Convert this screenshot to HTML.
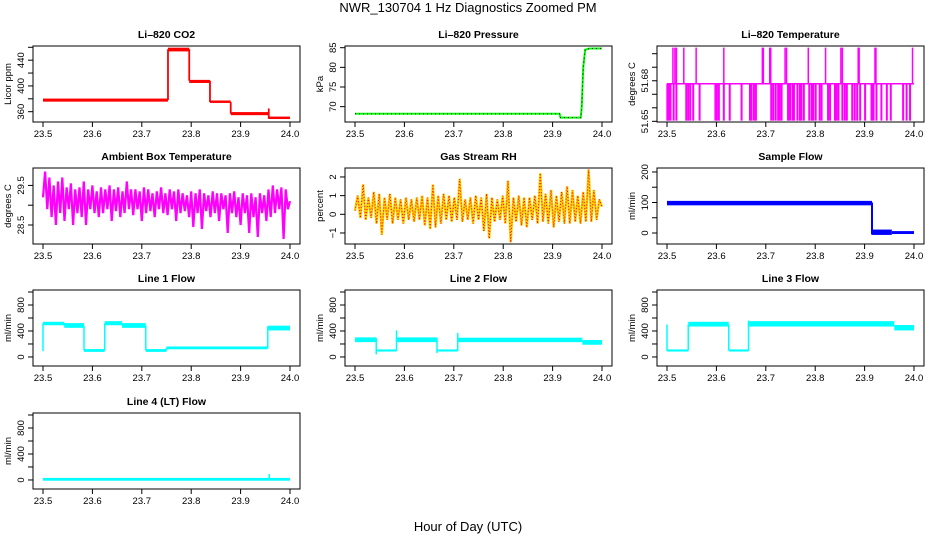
<!DOCTYPE html>
<html><head><meta charset="utf-8"><style>
body{margin:0;background:#fff}
svg{display:block;font-family:"Liberation Sans",sans-serif}
</style></head><body>
<svg id="c" width="936" height="540" viewBox="0 0 936 540">
<rect width="936" height="540" fill="#fff"/>
<text x="468" y="12" text-anchor="middle" font-size="13">NWR_130704  1 Hz Diagnostics Zoomed PM</text>
<text x="468" y="531" text-anchor="middle" font-size="13">Hour of Day (UTC)</text>
</svg>
<script>
// ---- data ----
const xTicks=[23.5,23.6,23.7,23.8,23.9,24.0];
const xTickLabels=["23.5","23.6","23.7","23.8","23.9","24.0"];
// CO2 (bands)
const co2T=[23.5,23.753,23.796,23.838,23.88,23.957,24.0];
const co2Lo=[377,455,406,375,356,350];
const co2Hi=[379,458,408,376,358,351];
const co2SpX=[23.753,23.796,23.838,23.88,23.957];
const co2SpLo=[378,408,375,357,349];
const co2SpHi=[457,457,408,375,365];
// Pressure
const presX=[23.5,23.914,23.916,23.957,23.959,23.962,23.966,23.975,24.0];
const presY=[68.2,68.2,67.2,67.2,70,80,84.5,84.8,84.8];
// Li-820 temperature
const tBase=51.6778;
const tLowVal=51.6505, tHighVal=51.7045;
const tLowX=[23.5007,23.503,23.507,23.5135,23.519,23.539,23.543,23.547,23.553,23.566,23.598,23.601,23.605,23.615,23.627,23.651,23.668,23.671,23.676,23.680,23.711,23.715,23.720,23.725,23.728,23.732,23.745,23.749,23.754,23.757,23.764,23.769,23.772,23.777,23.788,23.793,23.796,23.801,23.809,23.813,23.826,23.830,23.840,23.843,23.847,23.855,23.860,23.864,23.875,23.880,23.885,23.891,23.901,23.914,23.918,23.924,23.934,23.945,23.953,23.978,23.985,23.992];
const tHighX=[23.512,23.516,23.519,23.534,23.559,23.615,23.693,23.695,23.708,23.710,23.739,23.742,23.786,23.821,23.852,23.855,23.887,23.889,23.921,23.923,23.997];
// Ambient temperature
const amb=[29.2,29.85,28.9,29.7,28.7,29.5,28.5,29.6,28.8,29.7,28.6,29.45,28.9,29.55,28.5,29.4,28.8,29.45,28.7,29.6,28.5,29.4,28.9,29.5,28.8,29.35,28.7,29.45,28.8,29.4,28.9,29.5,28.6,29.4,28.85,29.45,28.7,29.35,28.8,29.6,28.9,29.4,28.75,29.4,28.9,29.35,28.6,29.45,28.8,29.4,28.85,29.3,28.7,29.35,28.9,29.45,28.8,29.3,28.75,29.4,28.9,29.35,28.6,29.4,28.8,29.3,28.85,29.25,28.7,29.35,28.45,29.3,28.8,29.4,28.4,29.3,28.85,29.25,28.7,29.35,28.8,29.3,28.6,29.3,28.9,29.25,28.3,29.3,28.8,29.35,28.7,29.2,28.5,29.3,28.8,29.25,28.3,29.3,28.7,29.2,28.2,29.3,28.8,29.25,28.6,29.4,28.7,29.5,28.8,29.4,28.9,29.45,28.15,29.4,28.9,29.1];
// Gas stream RH
const rh=[0.2,1.0,-0.2,1.6,-0.3,0.9,-0.2,1.2,-0.5,1.1,-1.1,0.9,-0.3,1.1,-0.5,0.9,-0.3,0.8,-0.5,0.9,-0.3,0.8,-0.4,0.9,-0.3,1.0,-0.6,0.9,-0.8,1.6,-0.7,1.0,-0.5,1.1,-0.3,1.0,-0.4,0.9,-0.3,1.9,-0.4,0.8,-0.3,0.9,-0.5,1.0,-0.3,0.9,-0.9,1.1,-1.3,0.9,-0.4,0.8,-0.3,1.0,-0.5,1.8,-1.5,0.9,-0.4,1.0,-0.6,0.9,-0.7,0.9,-0.3,1.0,-0.5,2.2,-0.4,1.1,-0.5,1.3,-0.7,1.0,-0.4,1.2,-0.5,1.5,-0.5,1.3,-0.4,1.0,-0.5,1.2,-0.4,2.4,-0.4,1.3,-0.3,0.8,0.4];
// Sample flow
const sfT=[23.5,23.915,23.955,24.0];
const sfLo=[94,-3,0];
const sfHi=[102,8,3];
const sfSpX=[23.915]; const sfSpLo=[-5]; const sfSpHi=[100];
// Line flows
const l1T=[23.5,23.543,23.583,23.625,23.66,23.708,23.75,23.955,24.0];
const l1Lo=[500,460,90,500,460,90,130,420];
const l1Hi=[530,510,110,540,510,110,150,470];
const l1SpX=[23.5,23.543,23.583,23.625,23.708,23.75,23.955]; const l1SpLo=[90,480,100,100,100,100,140]; const l1SpHi=[520,520,480,520,480,140,470];
const l2T=[23.5,23.543,23.584,23.666,23.708,23.96,24.0];
const l2Lo=[240,95,240,95,240,200];
const l2Hi=[290,105,290,105,285,250];
const l2SpX=[23.543,23.584,23.666,23.708]; const l2SpLo=[40,95,60,95]; const l2SpHi=[290,410,290,370];
const l3T=[23.5,23.543,23.625,23.665,23.96,24.0];
const l3Lo=[95,480,95,480,420];
const l3Hi=[105,530,105,540,480];
const l3SpX=[23.5,23.543,23.625,23.665]; const l3SpLo=[95,100,100,95]; const l3SpHi=[500,500,500,560];
const l4T=[23.5,24.0];
const l4Lo=[0];
const l4Hi=[20];
const l4SpX=[23.958]; const l4SpLo=[0]; const l4SpHi=[90];

// ---- drawing ----
const NS="http://www.w3.org/2000/svg";
const svg=document.getElementById('c');
function el(tag,attrs,parent){const e=document.createElementNS(NS,tag);for(const k in attrs)e.setAttribute(k,attrs[k]);(parent||svg).appendChild(e);return e;}
const colX=[43,355,667], rowTop=[46,168,290,413], H=76, W=247;
function panel(col,row,title,ylab,ymin,ymax,ticks,labels,name){
  const x0=colX[col], top=rowTop[row], bot=top+H;
  const g=el('g',{});
  
  
  const p={g,xs:t=>x0+(t-23.5)/0.5*W,ys:v=>bot-(v-ymin)/(ymax-ymin)*H,top,bot,x0};
  const clip=el('clipPath',{id:'cl'+name},g);el('rect',{x:x0-10,y:top,width:267,height:H},clip);
  p.plot=el('g',{'clip-path':'url(#cl'+name+')'},g);
  
  
  const b=el('rect',{x:x0-10,y:top,width:267,height:H,fill:'none',stroke:'#000','stroke-width':1},g);
  
  
  const t=el('text',{x:x0+123.5,y:top-8,'text-anchor':'middle','font-size':10.5,'font-weight':'bold'},g);t.textContent=title;
  
  
  // x axis
  el('line',{x1:p.xs(xTicks[0]),x2:p.xs(xTicks[xTicks.length-1]),y1:bot,y2:bot,stroke:'#000'},g);
  xTicks.forEach((v,i)=>{el('line',{x1:p.xs(v),x2:p.xs(v),y1:bot,y2:bot+5,stroke:'#000'},g);
    const tx=el('text',{x:p.xs(v),y:bot+15,'text-anchor':'middle','font-size':9.5},g);tx.textContent=xTickLabels[i];
    
    });
  // y axis
  el('line',{x1:x0-10,x2:x0-10,y1:p.ys(ticks[0]),y2:p.ys(ticks[ticks.length-1]),stroke:'#000'},g);
  ticks.forEach((v,i)=>{const y=p.ys(v);el('line',{x1:x0-15,x2:x0-10,y1:y,y2:y,stroke:'#000'},g);
    if(labels[i]){const tx=el('text',{x:0,y:0,'text-anchor':'middle','font-size':9.5,transform:`translate(${x0-19},${y}) rotate(-90)`},g);tx.textContent=labels[i];
    
    }});
  const yl=el('text',{x:0,y:0,'text-anchor':'middle','font-size':9.5,transform:`translate(${x0-32},${(top+bot)/2}) rotate(-90)`},g);yl.textContent=ylab;
  
  
  return p;
}
function bands(p,T,Lo,Hi,spX,spLo,spHi,color,sw){
  for(let i=0;i<Lo.length;i++){
    const y1=p.ys(Hi[i]),y2=p.ys(Lo[i]);
    const r=el('rect',{x:p.xs(T[i]),y:y1-sw/2,width:p.xs(T[i+1])-p.xs(T[i]),height:Math.max(y2-y1,0)+sw,fill:color},p.plot);
    
    
  }
  (spX||[]).forEach((x,i)=>{const l=el('line',{x1:p.xs(x),x2:p.xs(x),y1:p.ys(spLo[i]),y2:p.ys(spHi[i]),stroke:color,'stroke-width':sw},p.plot);
    
    });
}
function zig(p,vals,color,sw,dash){
  const pts=vals.map((v,i)=>p.xs(23.5+0.5*i/(vals.length-1)).toFixed(1)+','+p.ys(v).toFixed(1)).join(' ');
  const l=el('polyline',{points:pts,fill:'none',stroke:color,'stroke-width':sw},p.plot);
  if(dash)l.setAttribute('stroke-dasharray',dash);
  
  
}
// Row 1
let p=panel(0,0,'Li\u2013820 CO2','Licor ppm',344,462,[360,380,400,420,440,460],['360','','400','','440','']  ,'co2');
bands(p,co2T,co2Lo,co2Hi,co2SpX,co2SpLo,co2SpHi,'#ff0000',1.8);
p=panel(1,0,'Li\u2013820 Pressure','kPa',66.1,85.43,[70,75,80,85],['70','75','80','85'],'pressure');
{const pts=presX.map((x,i)=>p.xs(x)+','+p.ys(presY[i])).join(' ');
 const a=el('polyline',{points:pts,fill:'none',stroke:'#00ff00','stroke-width':2},p.plot);
 
 
 const b=el('polyline',{points:pts,fill:'none',stroke:'#000','stroke-width':1,'stroke-dasharray':'1,3'},p.plot);
 
 }
p=panel(2,0,'Li\u2013820 Temperature','degrees C',51.6495,51.7057,[51.65,51.66,51.67,51.68,51.69,51.70],['51.65','','','51.68','',''],'li820-temp');
{const b=el('line',{x1:p.xs(23.5),x2:p.xs(24.0),y1:p.ys(tBase),y2:p.ys(tBase),stroke:'#ff00ff','stroke-width':1.5},p.plot);
 
 
 tLowX.forEach(x=>{const l=el('line',{x1:p.xs(x),x2:p.xs(x),y1:p.ys(tBase),y2:p.ys(tLowVal),stroke:'#ff00ff','stroke-width':2},p.plot);
  
  });
 tHighX.forEach(x=>{const l=el('line',{x1:p.xs(x),x2:p.xs(x),y1:p.ys(tBase),y2:p.ys(tHighVal),stroke:'#ff00ff','stroke-width':1.5},p.plot);
  
  });}
// Row 2
p=panel(0,1,'Ambient Box Temperature','degrees C',28.02,29.94,[28.5,29.0,29.5],['28.5','','29.5'],'ambient-temp');
zig(p,amb,'#ff00ff',2.2);
p=panel(1,1,'Gas Stream RH','percent',-1.59,2.48,[-1,0,1,2],['\u22121','0','1','2'],'rh');
zig(p,rh,'#ffcc00',2.4);zig(p,rh,'#ff0000',1,'1,2');
p=panel(2,1,'Sample Flow','ml/min',-36,213,[0,50,100,150,200],['0','','100','','200'],'sample-flow');
bands(p,sfT,sfLo,sfHi,sfSpX,sfSpLo,sfSpHi,'#0000ff',2);
// Row 3/4
const ft=[0,200,400,600,800,1000], fl=['0','','400','','800',''];
p=panel(0,2,'Line 1 Flow','ml/min',-139,1031,ft,fl,'line1-flow');bands(p,l1T,l1Lo,l1Hi,l1SpX,l1SpLo,l1SpHi,'#00ffff',1.5);
p=panel(1,2,'Line 2 Flow','ml/min',-139,1031,ft,fl,'line2-flow');bands(p,l2T,l2Lo,l2Hi,l2SpX,l2SpLo,l2SpHi,'#00ffff',1.5);
p=panel(2,2,'Line 3 Flow','ml/min',-139,1031,ft,fl,'line3-flow');bands(p,l3T,l3Lo,l3Hi,l3SpX,l3SpLo,l3SpHi,'#00ffff',1.5);
p=panel(0,3,'Line 4 (LT) Flow','ml/min',-139,1031,ft,fl,'line4-flow');bands(p,l4T,l4Lo,l4Hi,l4SpX,l4SpLo,l4SpHi,'#00ffff',1.5);
</script>
</body></html>
